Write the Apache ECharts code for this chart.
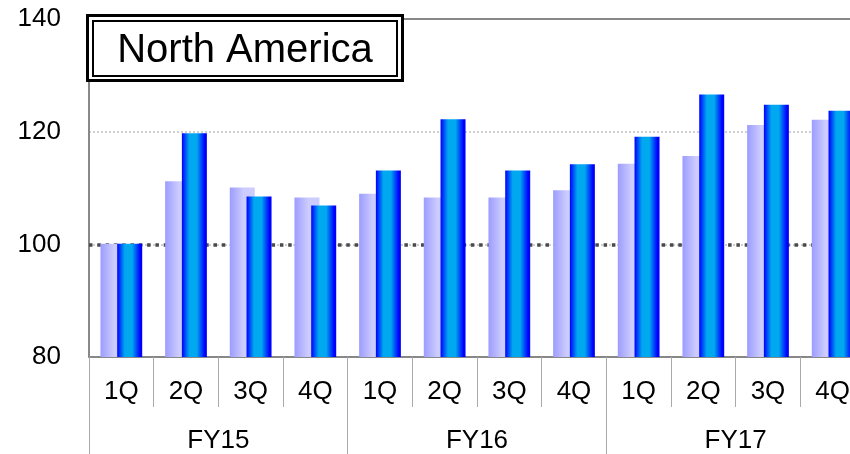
<!DOCTYPE html>
<html>
<head>
<meta charset="utf-8">
<script src="https://cdn.jsdelivr.net/npm/echarts@6/dist/echarts.min.js"></script>
<style>
html,body{margin:0;padding:0;background:#fff;}
#chart{width:850px;height:454px;}
</style>
</head>
<body>
<div id="chart"></div>
<script>
const quarters = ['1Q','2Q','3Q','4Q','1Q','2Q','3Q','4Q','1Q','2Q','3Q','4Q'];
const years = ['FY15','FY16','FY17'];
const seriesLight = [100.1, 111.2, 110.1, 108.3, 109.0, 108.3, 108.3, 109.6, 114.3, 115.7, 121.2, 122.1];
const seriesDark  = [100.1, 119.7, 108.5, 106.9, 113.1, 122.2, 113.1, 114.2, 119.1, 126.6, 124.8, 123.7];
const yMin = 80, yMax = 140, yStep = 20;
const refValue = 100;
const titleText = 'North America';

const FONT = '"Liberation Sans", Arial, sans-serif';
const chart = echarts.init(document.getElementById('chart'), null, {renderer: 'canvas'});

const lightGrad = new echarts.graphic.LinearGradient(0, 0, 1, 0, [
  {offset: 0, color: '#9c9cff'},
  {offset: 0.55, color: '#ccccff'},
  {offset: 1, color: '#ccccff'}
]);
const darkGrad = new echarts.graphic.LinearGradient(0, 0, 1, 0, [
  {offset: 0, color: '#0000ff'},
  {offset: 0.3, color: '#00a8f0'},
  {offset: 0.6, color: '#00a8f0'},
  {offset: 0.92, color: '#0000ff'},
  {offset: 1, color: '#0000ff'}
]);

chart.setOption({
  animation: false,
  backgroundColor: '#ffffff',
  grid: {left: 89, top: 19, width: 776, height: 338, containLabel: false, outerBoundsMode: 'none'},
  xAxis: [
    {
      type: 'category', data: quarters, position: 'bottom',
      axisLine: {show: true, lineStyle: {color: '#888', width: 2}},
      axisTick: {show: true, length: 50, lineStyle: {color: '#aaa', width: 1}},
      axisLabel: {margin: 22, fontSize: 26, color: '#000', fontFamily: FONT, interval: 0},
      splitLine: {show: false}
    },
    {
      type: 'category', data: years, position: 'bottom',
      axisLine: {show: false},
      axisTick: {show: true, length: 97, lineStyle: {color: '#aaa', width: 1}},
      axisLabel: {margin: 71, fontSize: 26, color: '#000', fontFamily: FONT, interval: 0},
      splitLine: {show: false}
    },
    {
      type: 'category', data: quarters, position: 'top',
      axisLine: {show: true, lineStyle: {color: '#888', width: 2}},
      axisTick: {show: false}, axisLabel: {show: false}, splitLine: {show: false}
    }
  ],
  yAxis: {
    type: 'value', min: yMin, max: yMax, interval: yStep,
    axisLine: {show: true, lineStyle: {color: '#888', width: 2}},
    axisTick: {show: false},
    axisLabel: {margin: 28, fontSize: 26, color: '#000', fontFamily: FONT},
    splitLine: {show: true, showMaxLine: false, lineStyle: {color: '#d0d0d0', width: 2, type: 'dotted'}}
  },
  series: [
    {
      type: 'bar', data: seriesLight, xAxisIndex: 0, barWidth: 25, barGap: '-33%',
      itemStyle: {color: lightGrad}, z: 3,
      markLine: {
        silent: true, symbol: 'none', z: 1,
        label: {show: false},
        lineStyle: {color: '#4a4a4a', width: 3.5, type: [3.5, 4.8]},
        data: [{yAxis: refValue}]
      }
    },
    {
      type: 'bar', data: seriesDark, xAxisIndex: 0, barWidth: 25,
      itemStyle: {color: darkGrad}, z: 3
    }
  ],
  graphic: [
    {type: 'rect', z: 100, shape: {x: 87.5, y: 15.5, width: 315, height: 65},
     style: {fill: '#fff', stroke: '#000', lineWidth: 3}},
    {type: 'rect', z: 101, shape: {x: 93, y: 21, width: 304, height: 55},
     style: {fill: 'none', stroke: '#000', lineWidth: 2}},
    {type: 'text', z: 102, x: 245, y: 51,
     style: {text: titleText, fill: '#000', font: '40px ' + FONT, textAlign: 'center', textVerticalAlign: 'middle'}}
  ]
});
</script>
</body>
</html>
